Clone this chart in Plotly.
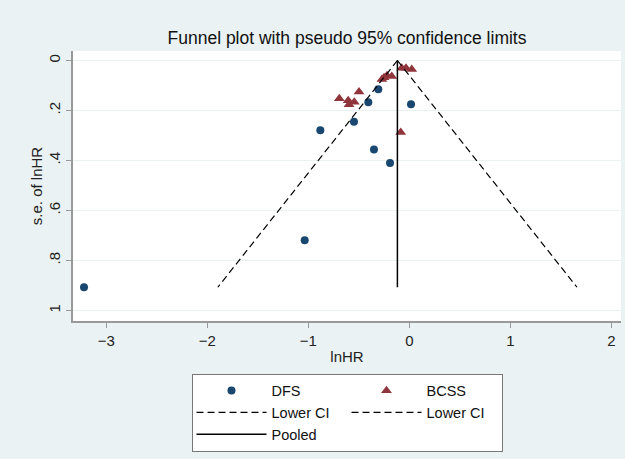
import plotly.graph_objects as go

# DFS studies
dfs_lnhr = [-3.221, -1.036, -0.881, -0.548, -0.406, -0.307, 0.017, -0.350, -0.191]
dfs_se = [0.907, 0.719, 0.279, 0.245, 0.167, 0.115, 0.175, 0.356, 0.410]

# BCSS studies
bcss_lnhr = [-0.693, -0.605, -0.545, -0.597, -0.498, -0.271, -0.250, -0.221, -0.174,
             -0.075, -0.033, 0.024, -0.085]
bcss_se = [0.152, 0.160, 0.166, 0.176, 0.125, 0.075, 0.068, 0.060, 0.063,
           0.030, 0.030, 0.035, 0.287]

# pseudo 95% CI lines (endpoints) and pooled estimate
ci_se = [0.0, 0.907]
lower_ci = [-0.118, -1.896]
upper_ci = [-0.118, 1.660]
pooled_x = [-0.118, -0.118]
pooled_se = [0.0, 0.907]

x_ticks = [-3, -2, -1, 0, 1, 2]
y_ticks = [0, 0.2, 0.4, 0.6, 0.8, 1]
y_ticktext = ["0", ".2", ".4", ".6", ".8", "1"]

BG = "#EAF2F3"
FONT = "Liberation Sans, Arial, sans-serif"

fig = go.Figure()
fig.add_trace(go.Scatter(x=dfs_lnhr, y=dfs_se, mode="markers", name="DFS",
                         legendgroup="a",
                         marker=dict(symbol="circle", size=8, color="#1a476f")))
fig.add_trace(go.Scatter(x=bcss_lnhr, y=bcss_se, mode="markers", name="BCSS",
                         legendgroup="b",
                         marker=dict(symbol="triangle-up", size=9.5, color="#90353b")))
fig.add_trace(go.Scatter(x=lower_ci, y=ci_se, mode="lines", name="Lower CI",
                         legendgroup="a",
                         line=dict(color="black", width=1.2, dash="7px,4px")))
fig.add_trace(go.Scatter(x=upper_ci, y=ci_se, mode="lines", name="Lower CI",
                         legendgroup="b",
                         line=dict(color="black", width=1.2, dash="7px,4px")))
fig.add_trace(go.Scatter(x=pooled_x, y=pooled_se, mode="lines", name="Pooled",
                         legendgroup="a",
                         line=dict(color="black", width=1.5)))

fig.update_layout(
    width=625, height=459,
    paper_bgcolor=BG, plot_bgcolor="white",
    font=dict(family=FONT, size=14, color="#222"),
    margin=dict(l=73, r=4, t=51, b=138),
    title=dict(text="Funnel plot with pseudo 95% confidence limits",
               x=0.5, xref="paper", xanchor="center",
               y=1 - 38 / 459, yref="container", yanchor="middle",
               font=dict(size=17.5, color="#111")),
    showlegend=True,
    legend=dict(orientation="h", traceorder="grouped",
                x=0.5, xanchor="center", y=-0.195, yanchor="top",
                bgcolor="white", bordercolor="#777", borderwidth=1,
                font=dict(size=14.5, color="#111"),
                itemwidth=70, entrywidth=70, tracegroupgap=0),
    xaxis=dict(range=[-3.33, 2.096], tickvals=x_ticks, showgrid=False,
               zeroline=False, showline=True, linecolor="#999", linewidth=1.5,
               ticks="outside", ticklen=5, tickcolor="#999",
               title=dict(text="lnHR", standoff=4, font=dict(size=15)),
               tickfont=dict(size=15)),
    yaxis=dict(range=[1.042, -0.038], tickvals=y_ticks, ticktext=y_ticktext,
               tickangle=-90, showgrid=True, gridcolor=BG, gridwidth=1,
               zeroline=False, showline=True, linecolor="#999", linewidth=1.5,
               ticks="outside", ticklen=5, tickcolor="#999",
               title=dict(text="s.e. of lnHR", standoff=0, font=dict(size=15)),
               tickfont=dict(size=15)),
)

fig.write_html(
    "out.html",
    config={"displayModeBar": False},
    post_script="document.body.style.margin='0';document.body.style.background='%s';" % BG,
)
